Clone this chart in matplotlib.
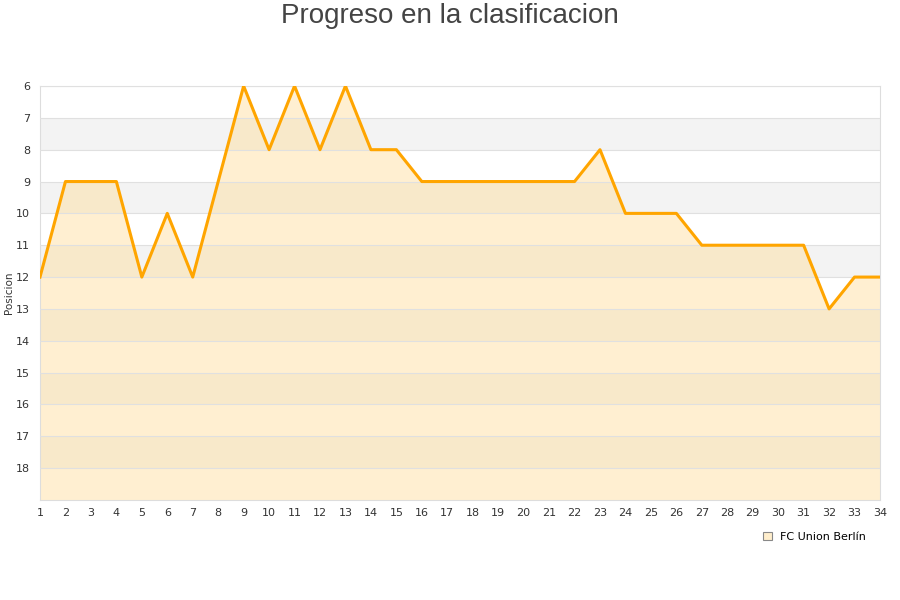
import matplotlib
matplotlib.use("Agg")
import matplotlib.pyplot as plt
from matplotlib.patches import Patch

# Data
jornadas = list(range(1, 35))
posiciones = [12, 9, 9, 9, 12, 10, 12, 9, 6, 8, 6, 8, 6, 8, 8, 9, 9, 9,
              9, 9, 9, 9, 8, 10, 10, 10, 11, 11, 11, 11, 11, 13, 12, 12]
equipo = "FC Union Berlín"
titulo = "Progreso en la clasificacion"

fig = plt.figure(figsize=(9, 6), dpi=100)
ax = fig.add_axes([40 / 900, 100 / 600, 840 / 900, 414 / 600])

# Alternating bands
for y in range(7, 19, 2):
    ax.axhspan(y, y + 1, color="#f3f3f3", zorder=0, lw=0)

# Fill and line
ax.fill_between(jornadas, posiciones, 19, color="#ffdd99", alpha=0.45,
                lw=0, zorder=1)
ax.plot(jornadas, posiciones, color="#ffa500", lw=2.2, zorder=3)

ax.set_xlim(1, 34)
ax.set_ylim(19, 6)
ax.set_xticks(jornadas)
ax.set_yticks(range(6, 19))
ax.yaxis.grid(True, color="#e0e0e0", lw=0.8, zorder=2)
ax.set_axisbelow(False)
ax.tick_params(length=0, labelsize=8, colors="#333333", pad=6)
ax.tick_params(axis="y", pad=7)
for s in ax.spines.values():
    s.set_color("#dddddd")

ax.set_ylabel("Posicion", fontsize=7.5, color="#333333")
ax.yaxis.set_label_coords(-0.031, 0.5)
fig.suptitle(titulo, fontsize=20, color="#444444", y=0.995,
             family="Liberation Sans")

leg = fig.legend(handles=[Patch(facecolor="#ffeecc", edgecolor="#888888",
                                lw=0.8, label=equipo)],
                 loc="center", bbox_to_anchor=(0.905, 0.105), frameon=False,
                 fontsize=8, handlelength=0.8, handleheight=0.8,
                 handletextpad=0.8)

fig.savefig("out.png", dpi=100)
